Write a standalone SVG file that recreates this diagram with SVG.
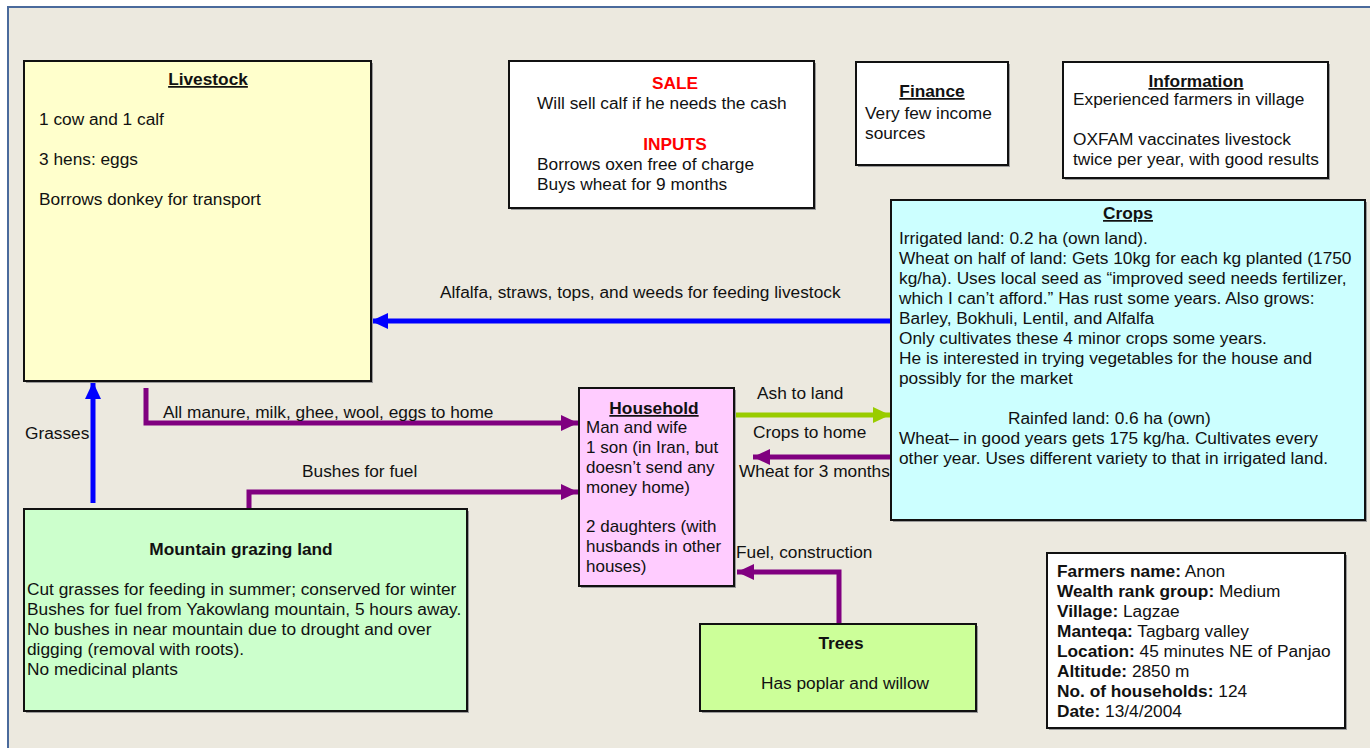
<svg xmlns="http://www.w3.org/2000/svg" width="1370" height="748" viewBox="0 0 1370 748">
  <style>
    text { font-family: "Liberation Sans", Arial, sans-serif; font-size: 17.3px; fill: #111; }
    .b { font-weight: bold; }
    .t { font-weight: bold; text-decoration: underline; text-anchor: middle; }
    .red { font-weight: bold; fill: #FF0000; text-anchor: middle; }
    .mid { text-anchor: middle; }
    .narrow { font-size: 17px; }
    .box { stroke: #111; stroke-width: 2; }
    .shadow { fill: #9a9a9a; }
    .line { fill: none; stroke-width: 5; }
  </style>
  <defs>
    <marker id="headBlue" markerUnits="userSpaceOnUse" markerWidth="18" markerHeight="18" refX="17" refY="8" orient="auto">
      <path d="M0,0 L17,8 L0,16 Z" fill="#0000FF"/>
    </marker>
    <marker id="headPurple" markerUnits="userSpaceOnUse" markerWidth="18" markerHeight="18" refX="17" refY="8" orient="auto">
      <path d="M0,0 L17,8 L0,16 Z" fill="#800080"/>
    </marker>
    <marker id="headGreen" markerUnits="userSpaceOnUse" markerWidth="18" markerHeight="18" refX="17" refY="8" orient="auto">
      <path d="M0,0 L17,8 L0,16 Z" fill="#99CC00"/>
    </marker>
  </defs>

  <!-- page and frame -->
  <rect x="0" y="0" width="1370" height="748" fill="#FFFFFF"/>
  <rect x="8" y="7" width="1362" height="741" fill="#ECE9DF"/>
  <path d="M8,748 V7 H1370" fill="none" stroke="#4A6A9C" stroke-width="2"/>

  <!-- connectors -->
  <g id="connectors">
    <line class="line" stroke="#0000FF" x1="891" y1="321" x2="371" y2="321" marker-end="url(#headBlue)"/>
    <text x="440" y="298">Alfalfa, straws, tops, and weeds for feeding livestock</text>

    <line class="line" stroke="#0000FF" x1="93" y1="503" x2="93" y2="382" marker-end="url(#headBlue)"/>
    <text x="25" y="439">Grasses</text>

    <polyline class="line" stroke="#800080" points="146,388 146,423 578,423" marker-end="url(#headPurple)"/>
    <text x="163" y="418">All manure, milk, ghee, wool, eggs to home</text>

    <polyline class="line" stroke="#800080" points="249,509 249,492 578,492" marker-end="url(#headPurple)"/>
    <text x="302" y="477">Bushes for fuel</text>

    <line class="line" stroke="#99CC00" x1="735" y1="415" x2="890" y2="415" marker-end="url(#headGreen)"/>
    <text x="757" y="399">Ash to land</text>

    <line class="line" stroke="#800080" x1="891" y1="457" x2="753" y2="457" marker-end="url(#headPurple)"/>
    <text x="753" y="438">Crops to home</text>
    <text x="739" y="477">Wheat for 3 months</text>

    <polyline class="line" stroke="#800080" points="839,624 839,572 737,572" marker-end="url(#headPurple)"/>
    <text x="736" y="558">Fuel, construction</text>
  </g>

  <!-- Livestock -->
  <g id="livestock">
    <rect class="shadow" x="26" y="63" width="347" height="320"/>
    <rect class="box" x="24" y="61" width="347" height="320" fill="#FFFFCC"/>
    <text class="t" x="208" y="85">Livestock</text>
    <text x="39" y="125">1 cow and 1 calf</text>
    <text x="39" y="165">3 hens: eggs</text>
    <text x="39" y="205">Borrows donkey for transport</text>
  </g>

  <!-- Sale / Inputs -->
  <g id="sale-inputs">
    <rect class="shadow" x="511" y="63" width="305" height="147"/>
    <rect class="box" x="509" y="61" width="305" height="147" fill="#FFFFFF"/>
    <text class="red" x="675" y="89">SALE</text>
    <text x="537" y="109">Will sell calf if he needs the cash</text>
    <text class="red" x="675" y="150">INPUTS</text>
    <text x="537" y="170">Borrows oxen free of charge</text>
    <text x="537" y="190">Buys wheat for 9 months</text>
  </g>

  <!-- Finance -->
  <g id="finance">
    <rect class="shadow" x="858" y="64" width="152" height="103"/>
    <rect class="box" x="856" y="62" width="152" height="103" fill="#FFFFFF"/>
    <text class="t" x="932" y="97">Finance</text>
    <text x="865" y="119">Very few income</text>
    <text x="865" y="139">sources</text>
  </g>

  <!-- Information -->
  <g id="information">
    <rect class="shadow" x="1065" y="64" width="265" height="116"/>
    <rect class="box" x="1063" y="62" width="265" height="116" fill="#FFFFFF"/>
    <text class="t" x="1196" y="87">Information</text>
    <text x="1073" y="105">Experienced farmers in village</text>
    <text x="1073" y="145">OXFAM vaccinates livestock</text>
    <text x="1073" y="165">twice per year, with good results</text>
  </g>

  <!-- Crops -->
  <g id="crops">
    <rect class="shadow" x="893" y="202" width="474" height="320"/>
    <rect class="box" x="891" y="200" width="474" height="320" fill="#CCFFFF"/>
    <text class="t" x="1128" y="219">Crops</text>
    <text x="899" y="244">Irrigated land: 0.2 ha (own land).</text>
    <text x="899" y="264">Wheat on half of land: Gets 10kg for each kg planted (1750</text>
    <text x="899" y="284">kg/ha). Uses local seed as “improved seed needs fertilizer,</text>
    <text x="899" y="304">which I can’t afford.” Has rust some years. Also grows:</text>
    <text x="899" y="324">Barley, Bokhuli, Lentil, and Alfalfa</text>
    <text x="899" y="344">Only cultivates these 4 minor crops some years.</text>
    <text x="899" y="364">He is interested in trying vegetables for the house and</text>
    <text x="899" y="384">possibly for the market</text>
    <text x="1008" y="424">Rainfed land: 0.6 ha (own)</text>
    <text x="899" y="444">Wheat– in good years gets 175 kg/ha. Cultivates every</text>
    <text x="899" y="464">other year. Uses different variety to that in irrigated land.</text>
  </g>

  <!-- Household -->
  <g id="household">
    <rect class="shadow" x="581" y="390" width="155" height="198"/>
    <rect class="box" x="579" y="388" width="155" height="198" fill="#FFCCFF"/>
    <text class="t" x="654" y="414">Household</text>
    <text class="narrow" x="586" y="433">Man and wife</text>
    <text class="narrow" x="586" y="453">1 son (in Iran, but</text>
    <text class="narrow" x="586" y="473">doesn’t send any</text>
    <text class="narrow" x="586" y="493">money home)</text>
    <text class="narrow" x="586" y="532">2 daughters (with</text>
    <text class="narrow" x="586" y="552">husbands in other</text>
    <text class="narrow" x="586" y="572">houses)</text>
  </g>

  <!-- Mountain grazing land -->
  <g id="mountain-grazing">
    <rect class="shadow" x="26" y="511" width="443" height="202"/>
    <rect class="box" x="24" y="509" width="443" height="202" fill="#CCFFCC"/>
    <text class="b mid" x="241" y="555">Mountain grazing land</text>
    <text x="27" y="595">Cut grasses for feeding in summer; conserved for winter</text>
    <text x="27" y="615">Bushes for fuel from Yakowlang mountain, 5 hours away.</text>
    <text x="27" y="635">No bushes in near mountain due to drought and over</text>
    <text x="27" y="655">digging (removal with roots).</text>
    <text x="27" y="675">No medicinal plants</text>
  </g>

  <!-- Trees -->
  <g id="trees">
    <rect class="shadow" x="702" y="626" width="276" height="87"/>
    <rect class="box" x="700" y="624" width="276" height="87" fill="#CCFF99"/>
    <text class="b mid" x="841" y="649">Trees</text>
    <text class="mid" x="845" y="689">Has poplar and willow</text>
  </g>

  <!-- Farm details -->
  <g id="farm-details">
    <rect class="shadow" x="1049" y="555" width="298" height="175"/>
    <rect class="box" x="1047" y="553" width="298" height="175" fill="#FFFFFF"/>
    <text x="1057" y="577"><tspan class="b">Farmers name:</tspan> Anon</text>
    <text x="1057" y="597"><tspan class="b">Wealth rank group:</tspan> Medium</text>
    <text x="1057" y="617"><tspan class="b">Village:</tspan> Lagzae</text>
    <text x="1057" y="637"><tspan class="b">Manteqa:</tspan> Tagbarg valley</text>
    <text x="1057" y="657"><tspan class="b">Location:</tspan> 45 minutes NE of Panjao</text>
    <text x="1057" y="677"><tspan class="b">Altitude:</tspan> 2850 m</text>
    <text x="1057" y="697"><tspan class="b">No. of households:</tspan> 124</text>
    <text x="1057" y="717"><tspan class="b">Date:</tspan> 13/4/2004</text>
  </g>
</svg>
